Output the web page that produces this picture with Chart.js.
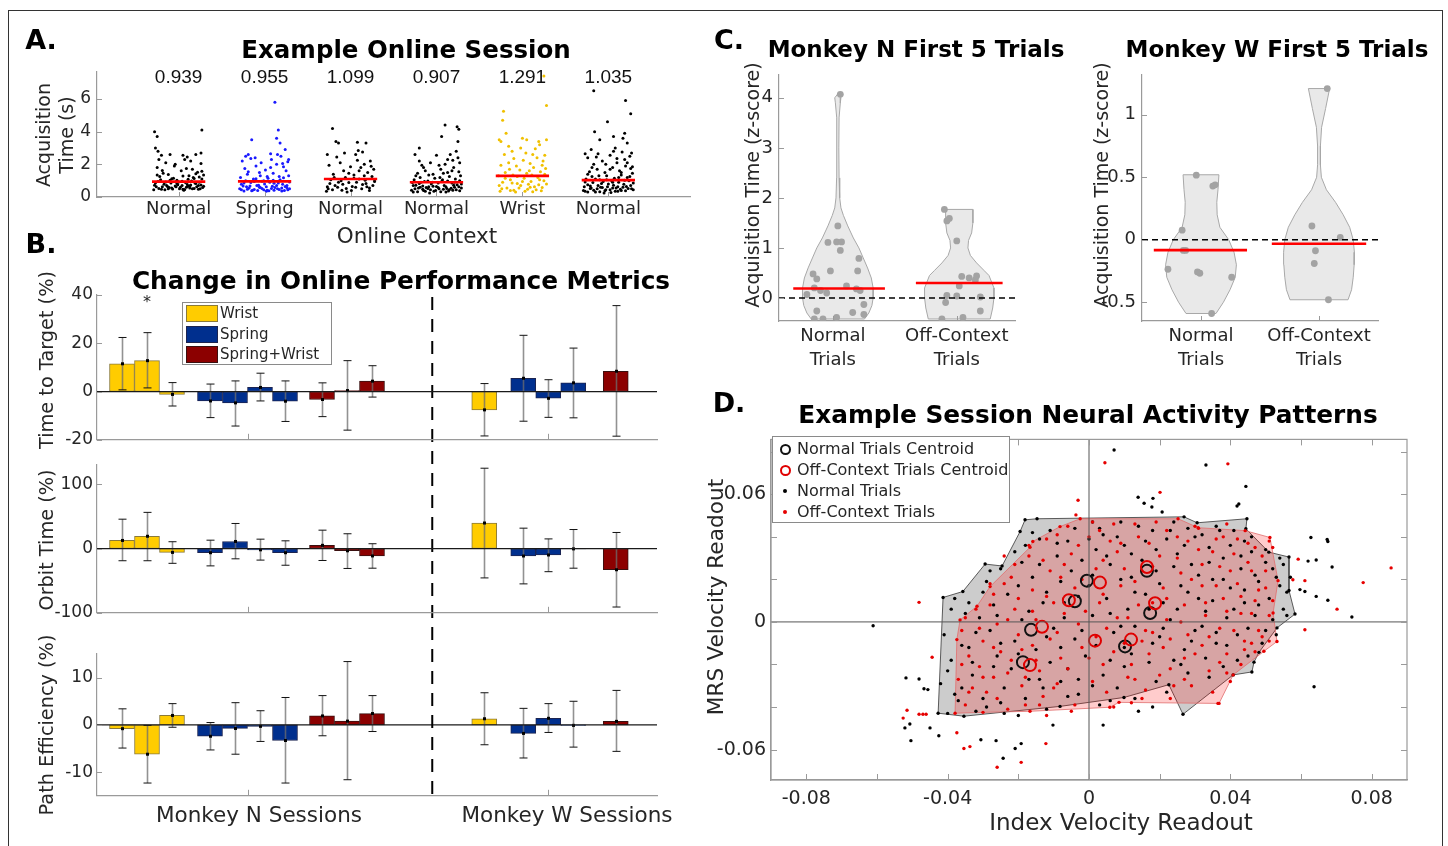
<!DOCTYPE html>
<html><head><meta charset="utf-8">
<script src="https://cdn.jsdelivr.net/npm/chart.js@4.4.1/dist/chart.umd.min.js"></script>
<style>
html,body{margin:0;padding:0;background:#fff;}
#root{position:relative;width:1448px;height:846px;overflow:hidden;font-family:'DejaVu Sans',sans-serif;}
canvas{position:absolute;}
.t{position:absolute;white-space:nowrap;color:#262626;transform:translate(-50%,-50%);line-height:1;z-index:5;}
.l{position:absolute;white-space:nowrap;color:#262626;transform:translateY(-50%);line-height:1;z-index:6;font-size:15px;}
.box{position:absolute;z-index:5;}
</style></head><body><div id="root"></div>
<script>
// ================= DATA =================
// ---- Panel A: Example Online Session ----
const aCategories = ['Normal','Spring','Normal','Normal','Wrist','Normal'];
const aColors = ['#000000','#1a1aff','#000000','#000000','#f0c000','#000000'];
const aMeans = [0.939,0.955,1.099,0.907,1.291,1.035];
const aMeanText = ['0.939','0.955','1.099','0.907','1.291','1.035'];
const aYTicks = [0,2,4,6];
// [jitter offset from category, acquisition time (s)]
const aTrials1 = [[-0.26,0.62],[-0.2,0.48],[-0.14,0.71],[-0.08,0.55],[-0.02,0.83],[0.05,0.47],[0.11,0.66],[0.18,0.52],[0.24,0.9],[0.28,0.58],
[-0.24,0.95],[-0.17,0.78],[-0.1,1.02],[-0.04,0.68],[0.02,0.6],[0.08,0.88],[0.14,0.74],[0.21,0.63],[0.27,1.1],[-0.28,0.72],
[-0.22,1.25],[-0.12,0.5],[-0.06,1.15],[0.0,0.92],[0.06,0.42],[0.12,1.3],[0.19,0.85],[0.25,0.5],[-0.18,1.45],[-0.09,0.86],
[0.03,1.6],[0.15,0.98],[0.22,1.52],[-0.25,1.8],[-0.15,2.1],[-0.05,1.9],[0.07,2.3],[0.16,1.7],[0.26,2.05],[-0.2,2.55],
[-0.1,2.6],[0.1,2.45],[0.2,2.6],[-0.27,3.0],[-0.24,2.8],[-0.28,4.0],[-0.25,3.7],[0.27,4.1],[0.29,1.35],[0.13,0.55],[-0.01,0.75],[0.09,0.6],[-0.13,0.64],[0.23,0.7],[0.17,1.2],
[-0.29,0.45],[-0.23,0.52],[-0.19,0.63],[-0.16,0.44],[-0.11,0.58],[-0.07,0.49],[-0.03,0.62],[0.01,0.51],[0.04,0.7],[0.07,0.46],[0.1,0.77],[0.13,0.68],[0.16,0.5],[0.2,0.82],[0.23,0.47],[0.26,0.73],[0.29,0.66],
[-0.27,0.86],[-0.21,1.05],[-0.15,0.92],[-0.08,1.12],[-0.02,1.02],[0.04,0.97],[0.11,1.08],[0.18,1.14],[0.24,1.22],[-0.25,1.35],[-0.12,1.38],[0.05,1.28],[0.2,1.42],[-0.19,1.62],[0.09,1.75],[0.27,1.58],[-0.04,2.0],[0.14,2.2],[-0.23,2.3],[0.05,2.55],[0.26,2.7]];
const aTrials2 = [[-0.27,0.45],[-0.21,0.62],[-0.15,0.38],[-0.09,0.7],[-0.03,0.52],[0.03,0.41],[0.09,0.66],[0.15,0.5],[0.21,0.78],[0.27,0.44],
[-0.24,0.85],[-0.18,0.55],[-0.12,0.95],[-0.06,0.6],[0.0,0.8],[0.06,0.9],[0.12,0.58],[0.18,1.05],[0.24,0.64],[0.29,0.92],
[-0.28,1.2],[-0.2,1.4],[-0.13,1.1],[-0.05,1.3],[0.04,1.15],[0.1,1.45],[0.17,1.25],[0.25,1.6],[-0.23,1.75],[-0.1,1.9],
[0.01,1.65],[0.14,2.0],[0.22,1.85],[-0.26,2.2],[-0.16,2.35],[-0.04,2.1],[0.08,2.3],[0.19,2.5],[0.27,2.15],[-0.19,2.6],
[0.07,2.65],[0.24,2.9],[-0.14,0.42],[0.02,0.35],[0.2,0.36],[-0.15,3.5],[0.18,3.3],[0.14,3.6],[0.16,4.1],[0.12,5.8],[-0.07,0.72],[0.11,0.84],[-0.01,1.0],[0.26,0.56],[-0.25,0.68],
[-0.29,0.5],[-0.24,0.36],[-0.2,0.48],[-0.17,0.68],[-0.12,0.46],[-0.08,0.4],[-0.05,0.58],[-0.01,0.44],[0.02,0.62],[0.05,0.38],[0.08,0.52],[0.11,0.42],[0.14,0.7],[0.17,0.46],[0.2,0.55],[0.23,0.4],[0.26,0.7],[0.29,0.5],
[-0.27,0.78],[-0.22,1.0],[-0.16,0.88],[-0.1,1.12],[-0.03,0.96],[0.03,1.25],[0.1,1.02],[0.16,0.86],[0.22,1.18],[0.28,1.3],[-0.19,1.55],[-0.06,1.5],[0.07,1.8],[0.21,2.05],[-0.11,2.4],[0.15,2.6],[-0.22,2.5],[0.28,2.3]];
const aTrials3 = [[-0.26,0.5],[-0.18,0.7],[-0.1,0.42],[-0.02,0.88],[0.06,0.6],[0.14,0.76],[0.22,0.55],[0.28,0.95],
[-0.23,1.05],[-0.14,0.9],[-0.06,1.2],[0.02,0.65],[0.1,1.1],[0.18,0.82],[0.25,1.25],[-0.28,0.35],
[-0.2,1.4],[-0.08,1.6],[0.04,1.35],[0.12,1.8],[0.2,1.5],[0.27,1.7],[-0.25,1.95],[-0.12,2.1],[0.0,1.85],[0.08,2.25],[0.16,2.0],[0.24,1.88],
[-0.16,2.45],[0.06,2.6],[0.14,2.75],[0.09,2.85],[-0.21,4.2],[-0.17,3.4],[-0.14,3.3],[0.08,3.35],[0.18,3.3],[-0.04,0.3],[0.22,0.4],[-0.09,0.78],[0.17,1.02],
[-0.27,0.62],[-0.21,0.45],[-0.15,0.6],[-0.05,0.52],[0.01,0.4],[0.07,0.9],[0.13,0.5],[0.19,0.62],[0.26,0.7],[-0.24,0.82],[-0.11,1.0],[0.04,1.15],[0.16,1.3],[0.28,1.05],[-0.19,1.2],[-0.02,1.45],[0.1,1.6],[0.23,2.2],[-0.27,2.6],[-0.07,2.7]];
const aTrials4 = [[-0.27,0.3],[-0.21,0.55],[-0.15,0.4],[-0.09,0.62],[-0.03,0.35],[0.03,0.5],[0.09,0.7],[0.15,0.45],[0.21,0.6],[0.27,0.38],
[-0.24,0.72],[-0.18,0.9],[-0.12,0.58],[-0.06,0.8],[0.0,0.65],[0.06,0.95],[0.12,0.52],[0.18,0.85],[0.24,0.75],[0.29,0.55],
[-0.26,1.05],[-0.19,1.2],[-0.1,0.98],[-0.02,1.15],[0.07,1.05],[0.15,1.25],[0.22,1.1],[0.28,1.3],[-0.22,1.45],[-0.13,1.6],
[-0.04,1.4],[0.05,1.7],[0.13,1.5],[0.2,1.8],[0.26,1.55],[-0.17,1.95],[-0.07,2.1],[0.1,2.0],[0.19,2.25],[0.25,2.4],
[-0.2,2.2],[0.0,2.55],[0.16,2.6],[0.23,2.8],[-0.2,3.0],[0.06,3.7],[0.25,3.4],[0.1,4.4],[0.24,4.3],[0.26,4.15],[-0.08,0.25],[0.11,0.3],[0.02,0.85],[-0.16,0.68],[0.19,0.42],[-0.28,0.88],
[-0.29,0.42],[-0.25,0.5],[-0.22,0.32],[-0.19,0.6],[-0.16,0.48],[-0.13,0.35],[-0.1,0.52],[-0.07,0.44],[-0.04,0.66],[-0.01,0.4],[0.02,0.58],[0.05,0.32],[0.08,0.48],[0.11,0.62],[0.14,0.36],[0.17,0.54],[0.2,0.72],[0.23,0.45],[0.26,0.62],[0.29,0.8],
[-0.27,0.7],[-0.2,0.82],[-0.14,0.95],[-0.05,0.9],[0.04,1.2],[0.13,0.98],[0.21,0.9],[0.27,1.0],[-0.24,1.3],[-0.09,1.35],[0.08,1.45],[0.18,1.6],[-0.15,1.8],[0.03,1.95],[0.27,2.1],[-0.25,2.6],[0.13,2.3]];
const aTrials5 = [[-0.26,0.35],[-0.18,0.55],[-0.1,0.42],[-0.02,0.7],[0.06,0.48],[0.14,0.62],[0.22,0.38],[0.28,0.8],
[-0.23,0.9],[-0.14,1.05],[-0.06,0.82],[0.02,1.15],[0.1,0.95],[0.18,1.2],[0.25,1.0],[-0.28,1.3],
[-0.2,1.5],[-0.11,1.35],[-0.03,1.65],[0.05,1.45],[0.13,1.8],[0.21,1.55],[0.27,1.75],[-0.25,1.95],
[-0.16,2.1],[-0.07,1.9],[0.01,2.25],[0.09,2.05],[0.17,2.4],[0.24,2.2],[-0.21,2.6],[-0.12,2.8],[0.04,2.7],[0.15,2.95],[0.26,2.55],
[-0.27,3.5],[-0.25,3.4],[0.0,3.6],[0.05,3.5],[0.2,3.2],[0.28,3.5],[-0.19,3.9],[-0.23,4.7],[-0.22,5.25],[0.28,5.6],[0.25,7.4],[-0.08,0.3],[0.12,0.32],[0.19,0.75],
[-0.24,0.5],[-0.14,0.4],[-0.04,0.55],[0.03,0.35],[0.09,0.6],[0.16,0.45],[0.23,0.58],[-0.27,0.7],[-0.12,0.85],[0.0,0.95],[0.07,0.78],[0.2,1.05],[-0.2,1.15],[-0.06,1.25],[0.11,1.35],[0.26,1.4],[-0.15,1.7],[0.08,1.6],[0.23,1.95],[-0.1,2.35],[0.12,2.6],[-0.02,3.0],[0.19,3.4],[-0.16,3.1]];
const aTrials6 = [[-0.27,0.35],[-0.21,0.52],[-0.15,0.3],[-0.09,0.6],[-0.03,0.45],[0.03,0.28],[0.09,0.55],[0.15,0.4],[0.21,0.65],[0.27,0.5],
[-0.24,0.75],[-0.18,0.88],[-0.12,0.7],[-0.06,0.95],[0.0,0.8],[0.06,0.72],[0.12,0.9],[0.18,0.78],[0.24,1.0],[0.29,0.85],
[-0.26,1.1],[-0.19,1.25],[-0.1,1.05],[-0.02,1.3],[0.07,1.15],[0.15,1.35],[0.22,1.2],[0.28,1.45],[-0.22,1.55],[-0.13,1.7],
[-0.04,1.5],[0.05,1.8],[0.13,1.6],[0.2,1.9],[0.26,1.75],[-0.17,2.0],[-0.07,2.2],[0.1,2.1],[0.19,2.3],[0.25,2.5],
[-0.24,2.4],[-0.12,2.65],[0.02,2.55],[0.16,2.75],[-0.2,2.9],[0.08,3.0],[0.22,3.3],[-0.1,3.5],[0.17,3.6],[0.06,3.7],[0.19,3.9],[-0.16,4.0],[-0.01,4.6],[0.26,5.1],[0.2,5.9],[-0.17,6.5],[-0.05,0.25],[0.11,0.35],[-0.28,0.62],[0.04,0.98],
[-0.29,0.4],[-0.24,0.3],[-0.2,0.55],[-0.17,0.42],[-0.13,0.5],[-0.1,0.32],[-0.07,0.58],[-0.04,0.38],[-0.01,0.62],[0.02,0.45],[0.05,0.55],[0.08,0.35],[0.11,0.62],[0.14,0.48],[0.17,0.6],[0.2,0.38],[0.23,0.52],[0.26,0.7],[0.29,0.45],
[-0.27,0.92],[-0.21,0.68],[-0.15,1.1],[-0.08,0.82],[-0.02,1.05],[0.05,0.9],[0.12,1.2],[0.19,1.02],[0.25,1.25],[-0.24,1.4],[-0.11,1.3],[0.02,1.7],[0.15,1.5],[0.28,1.85],[-0.19,1.8],[-0.03,2.0],[0.1,2.35],[0.22,2.1],[-0.14,2.45],[0.27,2.7],[-0.27,2.65],[0.06,2.8]];

// ---- Panel B: Change in Online Performance Metrics ----
const bSeries = ['Wrist','Spring','Spring+Wrist'];
const bXWrist  = [0,1,2,14.49];
const bXSpring = [3.52,4.52,5.52,6.52,16.05,17.05,18.05];
const bXSW     = [8,9,10,19.75];
const bSessionTicks = [5.04,17.05];
const bSeparatorX = 12.41;
// Time to Target (%)
const ttWrist = [11.5,12.8,-1.2,-7.6],  ttWristLo = [0.7,1.5,-6.0,-18.4],  ttWristHi = [22.4,24.4,3.7,3.3];
const ttSpring = [-3.9,-4.7,1.7,-4.0,5.5,-2.8,3.6], ttSpringLo = [-10.8,-14.3,-3.9,-12.4,-12.3,-10.7,-10.9], ttSpringHi = [3.1,4.4,7.6,4.4,23.3,4.9,18.0];
const ttSW = [-3.3,0.4,4.3,8.4], ttSWLo = [-10.4,-16.0,-2.3,-18.5], ttSWHi = [3.6,12.8,10.7,35.6];
const ttTicks = [-20,0,20,40];
// Orbit Time (%)
const otWrist = [12.6,19.1,-6.0,39.7], otWristLo = [-19,-19,-23,-45.7], otWristHi = [45.7,56.3,10.6,125];
const otSpring = [-6.5,11,-2,-6.5,-11.6,-10,-0.5], otSpringLo = [-27,-16,-18,-26,-55,-36,-30.6], otSpringHi = [13,39,14.6,12,31.7,15,29.6];
const otSW = [5,-3.5,-11.5,-33], otSWLo = [-18.6,-31,-30.6,-91], otSWHi = [28.6,23,7.5,25];
const otTicks = [-100,0,100];
// Path Efficiency (%)
const peWrist = [-0.8,-6.2,2.0,1.3], peWristLo = [-4.9,-12.3,-0.5,-4.2], peWristHi = [3.4,-0.1,4.5,6.8];
const peSpring = [-2.4,-0.75,-0.3,-3.3,-1.8,1.4,-0.1], peSpringLo = [-5.3,-6.2,-3.5,-12.3,-7.0,-1.6,-4.7], peSpringHi = [0.5,4.7,3.0,5.8,3.5,4.5,5.0];
const peSW = [1.9,0.8,2.4,0.75], peSWLo = [-2.3,-11.6,-1.4,-5.6], peSWHi = [6.2,13.4,6.2,7.3];
const peTicks = [-10,0,10];

// ---- Panel C: First 5 trials (z-scored acquisition time) ----
const cCategories = [['Normal','Trials'],['Off-Context','Trials']];
const cNTicks = [0,1,2,3,4];
const cWTicks = [-0.5,0,0.5,1];
const cNViolinCenters = [1.04,2.02];
const cWViolinCenters = [1.0,2.0];
const cNNormY  = [-0.42,-0.3,-0.15,0,0.2,0.4,0.6,0.8,1.0,1.2,1.44,1.65,1.8,2.0,2.4,3.0,3.6,3.9,4.0,4.08];
const cNNormHW = [0.215,0.25,0.275,0.285,0.285,0.27,0.24,0.205,0.17,0.125,0.08,0.045,0.025,0.015,0.01,0.008,0.01,0.02,0.025,0.0];
const cNOffY   = [-0.42,-0.2,0,0.2,0.45,0.55,0.7,0.85,1.0,1.15,1.3,1.5,1.65,1.77];
const cNOffHW  = [0.25,0.27,0.28,0.28,0.24,0.2,0.14,0.09,0.07,0.075,0.1,0.11,0.11,0.11];
const cWNormY  = [-0.59,-0.5,-0.4,-0.3,-0.2,-0.1,0,0.1,0.2,0.3,0.4,0.52];
const cWNormHW = [0.127,0.19,0.246,0.29,0.3,0.28,0.235,0.16,0.137,0.134,0.144,0.152];
const cWOffY   = [-0.48,-0.4,-0.3,-0.2,-0.1,0,0.1,0.2,0.3,0.4,0.5,0.6,0.75,0.9,1.05,1.21];
const cWOffHW  = [0.246,0.276,0.29,0.298,0.3,0.29,0.26,0.205,0.14,0.063,0.02,0.012,0.012,0.022,0.056,0.09];
const cNNormPts = [[1.06,4.07],[1.04,1.44],[0.96,1.11],[1.03,1.12],[1.07,1.12],[1.06,0.95],[1.21,0.79],[0.84,0.48],[0.98,0.54],[1.2,0.54],[0.87,0.38],[0.85,0.2],[0.9,0.15],[0.95,0.1],[0.79,0.07],[1.11,0.24],[1.19,0.18],[1.22,0.15],[1.25,-0.13],[0.87,-0.26],[1.16,-0.29],[1.25,-0.33],[0.85,-0.42],[0.92,-0.42],[1.03,-0.39]];
const cNOffPts  = [[1.9,1.77],[1.92,1.54],[1.94,1.59],[2.0,1.14],[2.04,0.43],[2.1,0.4],[2.16,0.44],[2.15,0.36],[2.02,0.24],[1.92,0.05],[2.0,0.04],[1.91,-0.09],[2.19,0.02],[2.19,-0.26],[1.88,-0.42],[2.05,-0.39]];
const cWNormPts = [[0.96,0.517],[1.1,0.43],[1.12,0.44],[0.84,0.077],[0.85,-0.085],[0.87,-0.085],[0.72,-0.236],[0.97,-0.257],[0.99,-0.268],[1.26,-0.3],[1.09,-0.59]];
const cWOffPts  = [[2.07,1.21],[1.94,0.11],[2.18,0.019],[1.97,-0.088],[1.96,-0.19],[2.08,-0.48]];
const cNMeans = [0.19,0.3], cNMeanSpan = [[0.68,1.42],[1.67,2.37]];
const cWMeans = [-0.083,-0.032], cWMeanSpan = [[0.6,1.39],[1.6,2.4]];

// ---- Panel D: neural activity patterns ----
const dXLabels = [-0.08,-0.04,0,0.04,0.08];
const dYLabels = [-0.06,0,0.06];
const dXMarks = [-0.08,-0.06,-0.04,-0.02,0,0.02,0.04,0.06,0.08];
const dYMarks = [-0.06,-0.04,-0.02,0,0.02,0.04,0.06,0.08];
const dHullNormal = [[-0.0413,0.0115],[-0.0357,0.0143],[-0.0294,0.0272],[-0.0246,0.0263],[-0.0195,0.0425],[-0.0181,0.048],[-0.0147,0.0485],
[0.0269,0.0494],[0.0306,0.0466],[0.0447,0.0485],[0.0444,0.0438],[0.0509,0.0328],[0.0566,0.0305],[0.0566,0.0148],[0.0583,0.0037],[0.0532,-0.0028],[0.0481,-0.0143],[0.0467,-0.0189],[0.0461,-0.0235],[0.0408,-0.0249],[0.0266,-0.0434],[0.0226,-0.0295],[0.0099,-0.0355],[-0.0082,-0.0397],[-0.0354,-0.0443],[-0.0427,-0.0429]];
const dHullOff = [[-0.0379,-0.0429],[-0.0374,-0.0083],[-0.0365,0.0009],[-0.0317,0.0074],[-0.028,0.0166],[-0.0167,0.0351],[-0.0159,0.0378],[-0.0082,0.0448],[-0.0025,0.0485],[0.0252,0.0485],[0.0309,0.0443],[0.0442,0.0429],[0.0512,0.0397],[0.0535,0.0194],[0.0521,0.0042],[0.0532,-0.0092],[0.0495,-0.0138],[0.0408,-0.0249],[0.0368,-0.0383],[0.0085,-0.0378],[0.0059,-0.0401],[-0.0167,-0.042],[-0.03,-0.0425]];
const dNormalTrials = [
[-0.038,0.011],[-0.035,0.004],[-0.041,-0.006],[-0.039,-0.018],[-0.042,-0.029],[-0.037,-0.037],[-0.040,-0.043],[-0.033,-0.025],[-0.034,-0.012],[-0.031,0.002],
[-0.029,0.019],[-0.027,0.008],[-0.028,-0.004],[-0.026,-0.016],[-0.024,-0.031],[-0.029,-0.040],[-0.022,-0.022],[-0.021,-0.009],[-0.023,0.013],[-0.019,0.028],
[-0.018,0.036],[-0.016,0.021],[-0.017,0.005],[-0.015,-0.013],[-0.014,-0.027],[-0.018,-0.036],[-0.012,-0.041],[-0.011,-0.019],[-0.010,-0.003],[-0.012,0.014],
[-0.009,0.031],[-0.011,0.043],[-0.006,0.038],[-0.005,0.024],[-0.007,0.009],[-0.004,-0.008],[-0.006,-0.022],[-0.003,-0.034],[-0.001,-0.016],[0.001,0.003],
[0.000,0.017],[0.002,0.034],[0.001,0.047],[0.004,0.041],[0.006,0.027],[0.005,0.011],[0.007,-0.005],[0.004,-0.025],[0.008,-0.031],[0.010,-0.012],
[0.011,0.006],[0.012,0.021],[0.010,0.036],[0.014,0.045],[0.015,0.029],[0.016,0.013],[0.013,-0.002],[0.017,-0.019],[0.019,-0.028],[0.020,-0.007],
[0.021,0.009],[0.019,0.024],[0.022,0.039],[0.024,0.047],[0.025,0.032],[0.026,0.017],[0.023,0.001],[0.027,-0.013],[0.028,-0.024],[0.030,-0.004],
[0.031,0.011],[0.029,0.027],[0.032,0.041],[0.034,0.035],[0.035,0.020],[0.033,0.005],[0.036,-0.010],[0.038,-0.021],[0.039,0.002],[0.040,0.016],
[0.038,0.030],[0.041,0.043],[0.043,0.025],[0.044,0.009],[0.042,-0.006],[0.045,-0.016],[0.047,0.003],[0.048,0.019],[0.046,0.033],[0.050,0.028],
[0.051,0.011],[0.050,-0.004],[0.053,0.021],[0.055,0.006],[0.054,0.030],[0.056,0.014],
[-0.036,-0.031],[-0.032,-0.042],[-0.025,-0.038],[-0.020,-0.044],[-0.030,0.014],[-0.025,0.025],[-0.014,0.039],[0.003,-0.039],[0.013,-0.036],[0.018,-0.040],
[-0.008,-0.028],[0.006,-0.018],[0.024,-0.018],[0.034,-0.026],[-0.002,0.029],[0.009,0.047],[0.018,0.043],[0.028,0.044],[0.036,0.045],[0.044,0.038],
[-0.039,0.006],[-0.036,-0.011],[-0.040,-0.023],[-0.038,-0.034],[-0.034,0.009],[-0.032,-0.005],[-0.033,-0.019],[-0.030,-0.036],[-0.028,0.024],[-0.026,0.003],
[-0.025,-0.010],[-0.027,-0.021],[-0.024,-0.043],[-0.021,0.033],[-0.020,0.017],[-0.019,0.001],[-0.020,-0.015],[-0.017,-0.027],[-0.016,0.042],[-0.014,0.027],
[-0.013,0.009],[-0.012,-0.007],[-0.013,-0.031],[-0.009,0.037],[-0.008,0.019],[-0.007,0.002],[-0.008,-0.012],[-0.006,-0.035],[-0.004,0.044],[-0.003,0.012],
[-0.002,-0.004],[-0.003,-0.027],[0.000,0.039],[0.001,0.022],[0.002,-0.011],[0.001,-0.030],[0.003,0.044],[0.005,0.031],[0.006,0.004],[0.006,-0.037],
[0.008,0.040],[0.009,0.020],[0.009,-0.002],[0.010,-0.021],[0.012,0.032],[0.013,0.014],[0.012,-0.015],[0.014,-0.042],[0.016,0.038],[0.017,0.006],
[0.018,-0.010],[0.019,0.034],[0.020,0.018],[0.021,-0.003],[0.022,-0.033],[0.023,0.043],[0.024,0.026],[0.025,0.006],[0.026,-0.020],[0.027,0.036],
[0.028,0.014],[0.029,-0.009],[0.030,0.040],[0.031,0.022],[0.032,-0.002],[0.033,-0.017],[0.034,0.028],[0.035,0.010],[0.036,-0.005],[0.037,0.043],
[0.038,0.020],[0.039,-0.011],[0.040,0.036],[0.041,0.006],[0.042,-0.018],[0.043,0.031],[0.044,0.015],[0.045,-0.003],[0.046,0.040],[0.047,0.022],
[0.048,0.008],[0.049,-0.010],[0.050,0.034],[0.052,0.025],[0.052,0.001],[0.054,0.017],[0.055,0.027],[0.056,0.003],[0.057,0.021],[0.053,-0.006],
[-0.0611,-0.0018],[0.0071,0.0808],[0.0331,0.0738],[0.0444,0.0637],[0.0419,0.0545],[0.0424,0.0554],[0.0139,0.0586],[0.0156,0.0558],[0.0181,0.0581],[0.0178,0.054],[0.0207,0.0517],
[0.0628,0.0397],[0.0674,0.0388],[0.0676,0.0378],[0.062,0.0286],[0.0643,0.0291],[0.0688,0.0258],[0.0597,0.0152],[0.0611,0.0143],[0.0643,0.012],[0.0676,0.0102],[0.0744,0.0023],[0.0637,-0.0305],
[-0.0518,-0.0263],[-0.0481,-0.0268],[-0.0467,-0.0314],[-0.0456,-0.0318],[-0.0507,-0.048],[-0.0521,-0.0498],[-0.0504,-0.0558],[-0.045,-0.0498],[-0.0425,-0.0535],
[-0.0306,-0.0554],[-0.0263,-0.0558],[-0.0192,-0.0572],[-0.0209,-0.0595],[-0.0243,-0.0641],[-0.0102,-0.0485],[0.004,-0.0485]];
const dOffTrials = [
[-0.036,-0.004],[-0.034,-0.016],[-0.037,-0.027],[-0.035,-0.039],[-0.032,0.006],[-0.030,-0.009],[-0.031,-0.021],[-0.029,-0.033],[-0.027,0.013],[-0.026,-0.001],
[-0.025,-0.014],[-0.027,-0.026],[-0.023,-0.041],[-0.022,0.021],[-0.021,0.006],[-0.020,-0.006],[-0.022,-0.018],[-0.019,-0.030],[-0.017,0.031],[-0.016,0.015],
[-0.015,0.001],[-0.016,-0.011],[-0.014,-0.023],[-0.013,-0.035],[-0.012,0.039],[-0.011,0.024],[-0.010,0.009],[-0.009,-0.005],[-0.008,-0.017],[-0.009,-0.029],
[-0.006,0.045],[-0.005,0.032],[-0.004,0.016],[-0.003,-0.001],[-0.002,-0.012],[-0.004,-0.039],[0.000,0.040],[0.002,0.025],[0.003,0.009],[0.002,-0.007],
[0.004,-0.020],[0.005,-0.033],[0.007,0.046],[0.008,0.033],[0.009,0.017],[0.008,0.002],[0.010,-0.010],[0.011,-0.026],[0.012,-0.038],[0.014,0.040],
[0.015,0.024],[0.014,0.008],[0.016,-0.004],[0.017,-0.015],[0.016,-0.032],[0.019,0.047],[0.020,0.031],[0.021,0.016],[0.022,0.001],[0.021,-0.012],
[0.023,-0.022],[0.023,-0.036],[0.025,0.040],[0.026,0.023],[0.027,0.008],[0.028,-0.006],[0.027,-0.017],[0.029,-0.030],[0.030,0.045],[0.031,0.034],
[0.032,0.017],[0.033,0.003],[0.032,-0.011],[0.034,-0.023],[0.036,0.039],[0.037,0.026],[0.038,0.011],[0.037,-0.003],[0.039,-0.015],[0.040,-0.028],
[0.041,0.032],[0.042,0.018],[0.043,0.004],[0.044,-0.009],[0.045,0.037],[0.046,0.024],[0.047,0.010],[0.048,-0.004],[0.049,0.031],[0.050,0.016],
[0.051,-0.009],[0.052,0.035],[0.051,0.003],[0.047,-0.014],[-0.028,0.018],[-0.033,-0.031],[-0.018,-0.039],[-0.007,0.027],[0.006,0.038],[0.013,-0.027],
[0.018,0.009],[0.024,-0.030],[0.035,-0.033],[0.043,-0.020],[-0.012,-0.044],[0.001,0.047],[0.039,0.046],[-0.024,0.031],
[-0.035,0.002],[-0.036,-0.020],[-0.034,-0.033],[-0.031,-0.003],[-0.030,-0.026],[-0.028,0.008],[-0.027,-0.012],[-0.026,-0.036],[-0.024,0.018],[-0.023,0.001],
[-0.023,-0.024],[-0.021,0.027],[-0.020,0.011],[-0.019,-0.013],[-0.018,-0.026],[-0.017,0.036],[-0.016,0.005],[-0.015,-0.018],[-0.014,-0.039],[-0.013,0.029],
[-0.012,0.012],[-0.011,-0.008],[-0.010,-0.031],[-0.009,0.041],[-0.008,0.021],[-0.007,0.004],[-0.006,-0.022],[-0.005,-0.042],[-0.003,0.036],[-0.002,0.020],
[-0.001,0.005],[0.000,-0.017],[0.001,-0.028],[0.003,0.043],[0.004,0.029],[0.004,0.013],[0.005,-0.003],[0.007,-0.014],[0.007,-0.040],[0.009,0.037],
[0.010,0.025],[0.011,0.002],[0.012,-0.020],[0.013,0.046],[0.013,0.019],[0.015,-0.009],[0.015,-0.036],[0.017,0.037],[0.018,0.026],[0.018,-0.005],
[0.020,-0.025],[0.022,0.043],[0.022,0.011],[0.023,-0.008],[0.025,0.030],[0.026,0.000],[0.027,-0.027],[0.028,0.038],[0.029,0.020],[0.030,-0.015],
[0.031,0.044],[0.032,0.027],[0.033,0.009],[0.034,-0.007],[0.035,0.033],[0.036,0.017],[0.037,-0.019],[0.038,0.040],[0.039,0.005],[0.040,0.024],
[0.041,-0.004],[0.042,0.039],[0.043,0.012],[0.044,-0.013],[0.045,0.028],[0.046,0.004],[0.047,0.035],[0.048,0.015],[0.049,-0.007],[0.050,0.024],
[0.051,0.038],[0.052,0.010],[0.046,-0.010],[0.039,-0.024],
[-0.0526,-0.0452],[-0.0515,-0.0415],[-0.0481,-0.0434],[-0.047,-0.0434],[-0.0461,-0.0434],[-0.0444,-0.0166],[-0.0374,-0.0521],[-0.0354,-0.0595],[-0.0337,-0.0586],
[-0.026,-0.0683],[-0.0192,-0.066],[-0.0122,-0.0572],[0.0365,-0.0383],[0.0045,0.0748],[0.0393,0.0743],[0.0201,0.0609],[-0.0031,0.0572],[-0.0037,0.0503],
[0.0855,0.0254],[0.0776,0.0185],[0.0702,0.006],[0.0611,-0.0037],[0.0577,0.0198],[0.0611,0.0194],[0.0592,0.0295],[-0.0481,0.0092]];
const dNormalCentroids = [[-0.0006,0.0194],[-0.004,0.0097],[0.0164,0.024],[0.0173,0.0042],[0.0102,-0.0115],[-0.0164,-0.0037],[-0.0187,-0.0189]];
const dOffCentroids = [[0.0031,0.0185],[-0.0057,0.0102],[0.0164,0.0258],[0.0187,0.0088],[0.0119,-0.0083],[0.0017,-0.0088],[-0.0133,-0.0023],[-0.0167,-0.0203]];

// ================= RENDERING =================
const AX = '#9a9a9a', TXT = '#262626';
Chart.defaults.font.family = "'DejaVu Sans', sans-serif";
Chart.defaults.color = TXT;
Chart.defaults.animation = false;
Chart.defaults.events = [];
Chart.defaults.plugins.legend.display = false;
Chart.defaults.plugins.tooltip.enabled = false;

const root = document.getElementById('root');

function makeChart(plot, m, config) {
  const c = document.createElement('canvas');
  const w = plot.R - plot.L + m.l + m.r, h = plot.B - plot.T + m.t + m.b;
  c.width = w; c.height = h;
  c.style.left = (plot.L - m.l) + 'px'; c.style.top = (plot.T - m.t) + 'px';
  c.style.width = w + 'px'; c.style.height = h + 'px';
  root.appendChild(c);
  const o = config.options;
  o.responsive = false; o.maintainAspectRatio = false;
  o.layout = {padding: {top: m.t, right: m.r, left: 0, bottom: 0}};
  o.scales.x.afterFit = s => { s.height = m.b; };
  o.scales.y.afterFit = s => { s.width = m.l; };
  return new Chart(c, config);
}
function linScale(min, max, tickVals, tickOpts) {
  return {type: 'linear', min, max, offset: false,
    grid: {display: false, drawTicks: false},
    border: {display: true, color: AX, width: 1.2},
    afterBuildTicks: s => { s.ticks = tickVals.map(v => ({value: v})); },
    ticks: Object.assign({color: TXT, font: {size: 17}, padding: 5, callback: v => String(v)}, tickOpts || {})};
}
function ticksIn(list) {
  return {id: 'ticksIn', afterDraw(chart) {
    const {ctx, chartArea: a} = chart; ctx.save(); ctx.strokeStyle = AX; ctx.lineWidth = 1; ctx.beginPath();
    list.forEach(t => { const s = chart.scales[t.axis];
      t.values.forEach(v => { const p = Math.round(s.getPixelForValue(v)) + 0.5;
        if (t.axis === 'x') { ctx.moveTo(p, a.bottom); ctx.lineTo(p, a.bottom - t.len); if (t.both) { ctx.moveTo(p, a.top); ctx.lineTo(p, a.top + t.len); } }
        else { ctx.moveTo(a.left, p); ctx.lineTo(a.left + t.len, p); if (t.both) { ctx.moveTo(a.right, p); ctx.lineTo(a.right - t.len, p); } }
      }); });
    ctx.stroke(); ctx.restore(); }};
}
function refLines(lines) {
  return {id: 'refLines', afterDatasetsDraw(chart) {
    const {ctx, chartArea: a} = chart;
    lines.forEach(L => { const s = chart.scales[L.axis]; const p = s.getPixelForValue(L.value);
      ctx.save(); ctx.strokeStyle = L.color; ctx.lineWidth = L.width; ctx.setLineDash(L.dash || []); ctx.beginPath();
      if (L.axis === 'y') { ctx.moveTo(a.left, p); ctx.lineTo(a.right, p); }
      else { ctx.moveTo(p, L.top !== undefined ? L.top : a.top); ctx.lineTo(p, L.bottom !== undefined ? a.bottom + L.bottom : a.bottom); }
      ctx.stroke(); ctx.restore(); }); }};
}
const errBars = {id: 'errBars', afterDatasetsDraw(chart) {
  const ctx = chart.ctx, ys = chart.scales.y;
  chart.data.datasets.forEach((ds, i) => { if (!ds.errLo) return; const meta = chart.getDatasetMeta(i);
    meta.data.forEach((el, j) => { const x = Math.round(el.x) + 0.5;
      const lo = ys.getPixelForValue(ds.errLo[j]), hi = ys.getPixelForValue(ds.errHi[j]), mid = ys.getPixelForValue(ds.data[j].y);
      ctx.save(); ctx.strokeStyle = 'rgba(110,110,110,0.75)'; ctx.lineWidth = 1.6; ctx.beginPath(); ctx.moveTo(x, lo); ctx.lineTo(x, hi); ctx.stroke();
      ctx.strokeStyle = '#111'; ctx.lineWidth = 1; ctx.beginPath(); ctx.moveTo(x - 4, lo); ctx.lineTo(x + 4, lo); ctx.moveTo(x - 4, hi); ctx.lineTo(x + 4, hi); ctx.stroke();
      ctx.fillStyle = '#000'; ctx.fillRect(x - 1.5, mid - 1.5, 3, 3); ctx.restore(); }); }); }};
function frameBox() {
  return {id: 'frameBox', afterDraw(chart) { const {ctx, chartArea: a} = chart; ctx.save(); ctx.strokeStyle = AX; ctx.lineWidth = 1.2;
    ctx.strokeRect(a.left, a.top, a.right - a.left, a.bottom - a.top); ctx.restore(); }};
}
function valueLabels(xs, y, texts) {
  return {id: 'valueLabels', afterDatasetsDraw(chart) { const ctx = chart.ctx; ctx.save(); ctx.fillStyle = '#111';
    ctx.font = "19px 'Liberation Sans', sans-serif"; ctx.textAlign = 'center'; ctx.textBaseline = 'middle';
    xs.forEach((x, i) => ctx.fillText(texts[i], chart.scales.x.getPixelForValue(x), chart.scales.y.getPixelForValue(y)));
    ctx.restore(); }};
}
const toPts = arr => arr.map(p => ({x: p[0], y: p[1]}));
const closed = arr => toPts(arr.concat([arr[0]]));

// ---------- Panel A ----------
(function () {
  const groups = [aTrials1, aTrials2, aTrials3, aTrials4, aTrials5, aTrials6];
  const ds = [];
  groups.forEach((g, i) => {
    ds.push({data: g.map(p => ({x: i + 1 + p[0], y: p[1]})), backgroundColor: aColors[i], borderWidth: 0, pointRadius: 1.5, order: 2});
    ds.push({data: [{x: i + 1 - 0.31, y: aMeans[i]}, {x: i + 1 + 0.31, y: aMeans[i]}], showLine: true, borderColor: '#ff0000', borderWidth: 2.6, pointRadius: 0, order: 1});
  });
  const cats = aCategories.map((c, i) => i + 1);
  makeChart({L: 97, T: 70, R: 690, B: 197}, {l: 60, t: 15, r: 10, b: 35}, {
    type: 'scatter', data: {datasets: ds},
    options: {scales: {
      x: linScale(0.05, 6.95, cats, {font: {size: 18}, padding: 2, callback: v => aCategories[Math.round(v) - 1]}),
      y: linScale(0, 7.7, aYTicks, {padding: 6})}},
    plugins: [ticksIn([{axis: 'x', values: cats, len: 5}, {axis: 'y', values: aYTicks, len: 5}]), valueLabels(cats, 7.3, aMeanText)]
  });
})();

// ---------- Panel B ----------
const bColors = ['#ffcc00', '#002f8e', '#8c0000'];
const bEdges = ['#8a7a3a', '#1c2450', '#3a1010'];
function bRow(plot, m, yMin, yMax, yTicks, w, wl, wh, s, sl, sh, r, rl, rh, extra) {
  const mk = (xs, ys, lo, hi, k) => ({type: 'bar', label: bSeries[k], data: xs.map((x, i) => ({x, y: ys[i]})), errLo: lo, errHi: hi,
    backgroundColor: bColors[k], borderColor: bEdges[k], borderWidth: 1, borderSkipped: false, barThickness: 25, grouped: false});
  return makeChart(plot, m, {
    type: 'bar',
    data: {datasets: [mk(bXWrist, w, wl, wh, 0), mk(bXSpring, s, sl, sh, 1), mk(bXSW, r, rl, rh, 2)]},
    options: {scales: {
      x: linScale(-1, 21.4, bSessionTicks, {display: false}),
      y: linScale(yMin, yMax, yTicks, {padding: 4})}},
    plugins: [errBars, ticksIn([{axis: 'x', values: bSessionTicks, len: 6}, {axis: 'y', values: yTicks, len: 5}]),
      refLines([{axis: 'y', value: 0, color: '#1a1a1a', width: 1.2}].concat(extra || []))]
  });
}
bRow({L: 97, T: 654, R: 657, B: 800}, {l: 60, t: 364, r: 10, b: 10}, -15, 15, peTicks,
  peWrist, peWristLo, peWristHi, peSpring, peSpringLo, peSpringHi, peSW, peSWLo, peSWHi,
  [{axis: 'x', value: bSeparatorX, color: '#000', width: 2, dash: [13, 9], top: 7, bottom: 2}]);
bRow({L: 97, T: 465, R: 657, B: 617}, {l: 60, t: 15, r: 10, b: 10}, -100, 130, otTicks,
  otWrist, otWristLo, otWristHi, otSpring, otSpringLo, otSpringHi, otSW, otSWLo, otSWHi);
bRow({L: 97, T: 295, R: 657, B: 444}, {l: 60, t: 15, r: 10, b: 10}, -20, 40, ttTicks,
  ttWrist, ttWristLo, ttWristHi, ttSpring, ttSpringLo, ttSpringHi, ttSW, ttSWLo, ttSWHi);

// ---------- Panel C ----------
function violinPoly(c, ys, hw) {
  const left = ys.map((y, i) => [c - hw[i], y]);
  const right = ys.map((y, i) => [c + hw[i], y]).reverse();
  return closed(left.concat(right));
}
function cChart(plot, m, yMin, yMax, yTicks, xMin, xMax, centers, v1y, v1w, v2y, v2w, p1, p2, means, spans) {
  const vio = (d) => ({data: d, showLine: true, fill: 'shape', backgroundColor: '#e9e9e9', borderColor: '#a8a8a8', borderWidth: 1, pointRadius: 0, order: 5});
  const dots = (d) => ({data: toPts(d), backgroundColor: '#a3a3a3', borderWidth: 0, pointRadius: 3.4, order: 3});
  const mean = (k) => ({data: [{x: spans[k][0], y: means[k]}, {x: spans[k][1], y: means[k]}], showLine: true, borderColor: '#ff0000', borderWidth: 2.6, pointRadius: 0, order: 1});
  makeChart(plot, m, {
    type: 'scatter',
    data: {datasets: [vio(violinPoly(centers[0], v1y, v1w)), vio(violinPoly(centers[1], v2y, v2w)), dots(p1), dots(p2), mean(0), mean(1)]},
    options: {scales: {
      x: linScale(xMin, xMax, [1, 2], {font: {size: 18, lineHeight: 1.33}, padding: 3, callback: v => cCategories[Math.round(v) - 1]}),
      y: linScale(yMin, yMax, yTicks, {font: {size: 18}, padding: 6})}},
    plugins: [ticksIn([{axis: 'x', values: [1, 2], len: 5}, {axis: 'y', values: yTicks, len: 5}]),
      refLines([{axis: 'y', value: 0, color: '#000', width: 1.6, dash: [6, 4]}])]
  });
}
cChart({L: 779, T: 73, R: 1015, B: 321}, {l: 45, t: 15, r: 10, b: 60}, -0.46, 4.46, cNTicks, 0.565, 2.47, cNViolinCenters,
  cNNormY, cNNormHW, cNOffY, cNOffHW, cNNormPts, cNOffPts, cNMeans, cNMeanSpan);
cChart({L: 1142, T: 73, R: 1378, B: 321}, {l: 55, t: 15, r: 10, b: 60}, -0.65, 1.32, cWTicks, 0.5, 2.5, cWViolinCenters,
  cWNormY, cWNormHW, cWOffY, cWOffHW, cWNormPts, cWOffPts, cWMeans, cWMeanSpan);

// ---------- Panel D ----------
makeChart({L: 771, T: 433, R: 1407, B: 780}, {l: 65, t: 10, r: 10, b: 38}, {
  type: 'scatter',
  data: {datasets: [
    {data: toPts(dOffCentroids), pointStyle: 'circle', pointRadius: 6, borderColor: '#e00000', borderWidth: 2, backgroundColor: 'rgba(0,0,0,0)', order: 0},
    {data: toPts(dNormalCentroids), pointStyle: 'circle', pointRadius: 6, borderColor: '#111', borderWidth: 2, backgroundColor: 'rgba(0,0,0,0)', order: 1},
    {data: toPts(dOffTrials.concat(dHullOff)), backgroundColor: '#e60000', borderWidth: 0, pointRadius: 1.7, order: 2},
    {data: toPts(dNormalTrials.concat(dHullNormal)), backgroundColor: '#000', borderWidth: 0, pointRadius: 1.7, order: 3},
    {data: closed(dHullOff), showLine: true, fill: 'shape', backgroundColor: 'rgba(255,0,0,0.2)', borderColor: 'rgba(225,110,110,0.9)', borderWidth: 0.9, pointRadius: 0, order: 4},
    {data: closed(dHullNormal), showLine: true, fill: 'shape', backgroundColor: 'rgba(0,0,0,0.2)', borderColor: '#4a4a4a', borderWidth: 0.9, pointRadius: 0, order: 5}
  ]},
  options: {scales: {
    x: linScale(-0.09, 0.09, dXLabels, {font: {size: 19}, padding: 8}),
    y: linScale(-0.0743, 0.0858, dYLabels, {font: {size: 19}, padding: 5})}},
  plugins: [frameBox(), ticksIn([{axis: 'x', values: dXMarks, len: 6, both: true}, {axis: 'y', values: dYMarks, len: 6, both: true}]),
    refLines([{axis: 'x', value: 0, color: '#555', width: 1}, {axis: 'y', value: 0, color: '#555', width: 1}])]
});

// ================= TEXT OVERLAYS =================
function txt(s, cx, cy, size, o) {
  o = o || {};
  const d = document.createElement('div'); d.className = 't'; d.textContent = s;
  d.style.left = cx + 'px'; d.style.top = cy + 'px'; d.style.fontSize = size + 'px';
  if (o.bold) { d.style.fontWeight = 'bold'; d.style.color = '#000'; }
  if (o.rot) d.style.transform = 'translate(-50%,-50%) rotate(-90deg)';
  root.appendChild(d);
}
function box(l, t, w, h, css) { const d = document.createElement('div'); d.className = 'box';
  Object.assign(d.style, {left: l + 'px', top: t + 'px', width: w + 'px', height: h + 'px'}, css); root.appendChild(d); return d; }
function ltxt(s, x, y, size) { const d = document.createElement('div'); d.className = 'l'; d.textContent = s; d.style.left = x + 'px'; d.style.top = y + 'px'; if (size) d.style.fontSize = size + 'px'; root.appendChild(d); }

// frame
box(8, 10, 1433, 850, {border: '1px solid #333', zIndex: 0});
// panel letters
txt('A.', 41, 39, 27, {bold: true}); txt('B.', 41, 243, 27, {bold: true});
txt('C.', 729, 39, 27, {bold: true}); txt('D.', 729, 402, 27, {bold: true});
// titles
txt('Example Online Session', 406, 50, 24.5, {bold: true});
txt('Change in Online Performance Metrics', 401, 281, 24.8, {bold: true});
txt('Monkey N First 5 Trials', 916, 49, 23, {bold: true});
txt('Monkey W First 5 Trials', 1277, 49, 23, {bold: true});
txt('Example Session Neural Activity Patterns', 1088, 415, 24.8, {bold: true});
// axis titles
txt('Acquisition', 43, 135, 19, {rot: true}); txt('Time (s)', 66, 135, 19, {rot: true});
txt('Online Context', 417, 236, 21.5);
txt('Time to Target (%)', 47, 360, 19.3, {rot: true});
txt('Orbit Time (%)', 47, 540, 19.3, {rot: true});
txt('Path Efficiency (%)', 47, 725, 19.3, {rot: true});
txt('Monkey N Sessions', 259, 815, 21.5); txt('Monkey W Sessions', 567, 815, 21.5);
txt('Acquisition Time (z-score)', 752, 185, 19, {rot: true});
txt('Acquisition Time (z-score)', 1101, 185, 19, {rot: true});
txt('Index Velocity Readout', 1121, 822, 23);
txt('MRS Velocity Readout', 716, 597, 21.7, {rot: true});
txt('*', 147, 302, 16);
// Panel B legend
box(182, 302, 148, 61, {background: '#fff', border: '1px solid #8a8a8a'});
const lgY = [313, 334, 354];
bSeries.forEach((s, i) => { box(186, lgY[i] - 8, 30, 15, {background: bColors[i], border: '1px solid ' + bEdges[i], zIndex: 6}); ltxt(s, 220, lgY[i]); });
// Panel D legend
box(772, 436, 236, 85, {background: '#fff', border: '1px solid #8a8a8a'});
const dLg = [['Normal Trials Centroid', 'ring', '#111'], ['Off-Context Trials Centroid', 'ring', '#e00000'], ['Normal Trials', 'dot', '#000'], ['Off-Context Trials', 'dot', '#e60000']];
const dLgY = [449, 470, 491, 512];
dLg.forEach((e, i) => {
  if (e[1] === 'ring') box(780, dLgY[i] - 5, 7, 7, {border: '2px solid ' + e[2], borderRadius: '50%', zIndex: 6});
  else box(783, dLgY[i] - 2, 4, 4, {background: e[2], borderRadius: '50%', zIndex: 6});
  ltxt(e[0], 797, dLgY[i], 16);
});
</script></body></html>
